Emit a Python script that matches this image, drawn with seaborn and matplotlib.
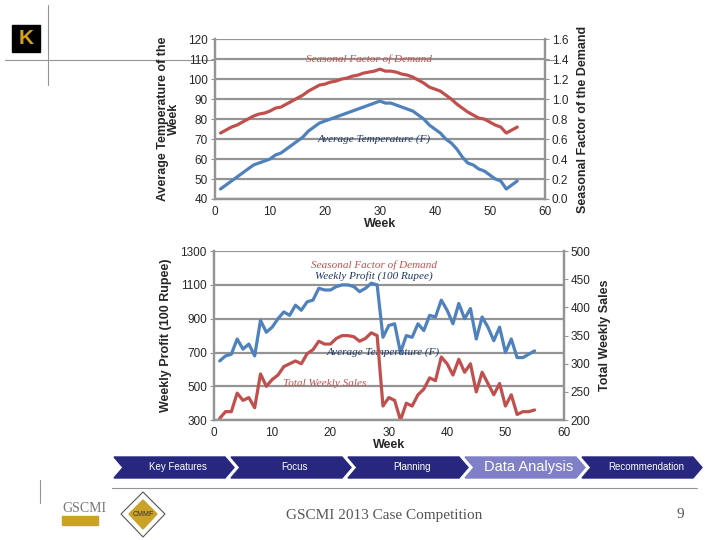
import numpy as np
import pandas as pd
import matplotlib
matplotlib.use("Agg")
import matplotlib.pyplot as plt
from matplotlib.patches import Polygon, Rectangle
import seaborn as sns

# weekly data
weeks = list(range(1, 56))
avg_temp = [45, 47, 49, 51, 53, 55, 57, 58, 59, 60, 62, 63, 65, 67, 69, 71, 74, 76, 78, 79,
            80, 81, 82, 83, 84, 85, 86, 87, 88, 89, 88, 88, 87, 86, 85, 84, 82, 80, 77, 75,
            73, 70, 68, 65, 61, 58, 57, 55, 54, 52, 50, 49, 45, 47, 49]
seasonal_factor = [0.66, 0.69, 0.72, 0.74, 0.77, 0.80, 0.83, 0.85, 0.86, 0.88, 0.91, 0.92, 0.95,
                   0.98, 1.01, 1.04, 1.08, 1.11, 1.14, 1.15, 1.17, 1.18, 1.20, 1.21, 1.23, 1.24,
                   1.26, 1.27, 1.28, 1.30, 1.28, 1.28, 1.27, 1.25, 1.24, 1.22, 1.19, 1.16, 1.12,
                   1.10, 1.08, 1.04, 1.00, 0.95, 0.91, 0.87, 0.84, 0.81, 0.80, 0.77, 0.74, 0.72,
                   0.66, 0.69, 0.72]
weekly_profit = [650, 680, 690, 780, 720, 750, 680, 890, 820, 850, 900, 940, 920, 980, 950, 1000,
                 1010, 1080, 1070, 1070, 1090, 1100, 1100, 1090, 1060, 1080, 1110, 1100, 790, 860,
                 870, 700, 800, 790, 870, 830, 920, 910, 1010, 950, 870, 990, 900, 960, 780, 910,
                 850, 770, 850, 700, 780, 670, 670, 690, 710]
weekly_sales = [203, 215, 215, 248, 235, 240, 222, 282, 260, 272, 280, 295, 300, 305, 300, 318,
                325, 340, 335, 335, 345, 350, 350, 348, 340, 345, 355, 350, 225, 240, 235, 200,
                230, 225, 245, 255, 275, 270, 312, 300, 280, 308, 285, 300, 250, 285, 265, 245,
                265, 225, 245, 210, 215, 215, 218]

nav_items = ["Key Features", "Focus", "Planning", "Data Analysis", "Recommendation"]

df = pd.DataFrame({"Week": weeks, "Temp": avg_temp, "Factor": seasonal_factor,
                   "Profit": weekly_profit, "Sales": weekly_sales})

sns.set_style("white")
plt.rcParams['font.family'] = ['Liberation Sans', 'DejaVu Sans']

BLUE = "#4F81BD"
RED = "#C0504D"
GRID = "#949494"
DARK = "#1F3864"
LABEL = dict(fontsize=9, fontweight='bold', family=['Liberation Sans Narrow', 'Liberation Sans'])


def style_axes(ax, twin):
    for a in (ax, twin):
        a.spines['top'].set_visible(False)
        for s in ('left', 'right', 'bottom'):
            a.spines[s].set_color(GRID)
            a.spines[s].set_linewidth(1.6)
        a.tick_params(labelsize=8.5, length=3, color=GRID, pad=2)
    ax.grid(axis='y', color=GRID, linewidth=1.6)
    ax.set_xlim(0, 60)
    ax.set_xticks(range(0, 61, 10))


fig = plt.figure(figsize=(7.2, 5.4), dpi=100)

# top chart
ax1 = fig.add_axes([0.2986, 0.6315, 0.458, 0.296])
ax1b = ax1.twinx()
sns.lineplot(data=df, x="Week", y="Factor", ax=ax1b, color=RED, linewidth=2.3)
sns.lineplot(data=df, x="Week", y="Temp", ax=ax1, color=BLUE, linewidth=2.3)
ax1.set_ylim(40, 120)
ax1.set_yticks(range(40, 121, 10))
ax1b.set_ylim(0, 1.6)
ax1b.set_yticks(np.arange(0, 1.61, 0.2))
ax1b.set_yticklabels([f"{v:.1f}" for v in np.arange(0, 1.61, 0.2)])
style_axes(ax1, ax1b)
ax1.set_xlabel("Week", labelpad=0, **LABEL)
ax1.set_ylabel("Average Temperature of the\nWeek", linespacing=0.9, labelpad=6, **LABEL)
ax1b.set_ylabel("Seasonal Factor of the Demand", labelpad=6, **LABEL)
serif = dict(family='Liberation Serif', style='italic', fontsize=8, ha='center', va='center')
ax1.text(28, 110, "Seasonal Factor of Demand", color=RED, **serif)
ax1.text(29, 70, "Average Temperature (F)", color=DARK, **serif)

# bottom chart
ax2 = fig.add_axes([0.297, 0.222, 0.486, 0.313])
ax2b = ax2.twinx()
sns.lineplot(data=df, x="Week", y="Sales", ax=ax2b, color=RED, linewidth=2.3)
sns.lineplot(data=df, x="Week", y="Profit", ax=ax2, color=BLUE, linewidth=2.3)
ax2.set_ylim(300, 1300)
ax2.set_yticks(range(300, 1301, 200))
ax2b.set_ylim(200, 500)
ax2b.set_yticks(range(200, 501, 50))
style_axes(ax2, ax2b)
ax2.set_xlabel("Week", labelpad=0, **LABEL)
ax2.set_ylabel("Weekly Profit (100 Rupee)", labelpad=6, **LABEL)
ax2b.set_ylabel("Total Weekly Sales", labelpad=6, **LABEL)
ax2.text(27.5, 1215, "Seasonal Factor of Demand", color=RED, **serif)
ax2.text(27.5, 1155, "Weekly Profit (100 Rupee)", color=DARK, **serif)
ax2.text(29, 700, "Average Temperature (F)", color=DARK, **serif)
ax2.text(19, 515, "Total Weekly Sales", color=RED, **serif)

# slide decorations (pixel coordinates, origin at top-left)
deco = fig.add_axes([0, 0, 1, 1], zorder=-1)
deco.set_xlim(0, 720)
deco.set_ylim(540, 0)
deco.axis('off')
deco.plot([5, 557], [60, 60], color=GRID, linewidth=0.8)
deco.plot([48, 48], [5, 85], color=GRID, linewidth=0.8)
deco.plot([112, 697], [488, 488], color=GRID, linewidth=0.8)
deco.plot([40, 40], [480, 503], color=GRID, linewidth=0.8)
# K logo
deco.add_patch(Rectangle((12, 25), 28, 27, color='black'))
deco.text(26, 38.5, "K", color='#D4A017', fontsize=15, fontweight='bold', ha='center', va='center')

# navigation chevrons
x0, w, notch, y_top, y_bot = 114, 120, 9, 457, 478
for i, label in enumerate(nav_items):
    left = x0 + i * (w - 3)
    ym = (y_top + y_bot) / 2
    pts = [(left, y_top), (left + w - notch, y_top), (left + w, ym),
           (left + w - notch, y_bot), (left, y_bot), (left + notch, ym)]
    active = label == "Data Analysis"
    deco.add_patch(Polygon(pts, closed=True, color='#8080C8' if active else '#27277F'))
    deco.text(left + w / 2 + 4, ym, label, color='white', ha='center', va='center',
              fontsize=10.5 if active else 7)

# footer
deco.text(62, 508, "GSCMI", color='#777777', family='Liberation Serif', fontsize=10, va='center')
deco.add_patch(Rectangle((62, 516), 36, 9, color='#C9A227'))
diamond = [(143, 492), (165, 514), (143, 537), (121, 514)]
deco.add_patch(Polygon(diamond, closed=True, fill=False, edgecolor='#555555', linewidth=0.8))
deco.add_patch(Polygon([(143, 500), (157, 514), (143, 529), (129, 514)], closed=True,
                       color='#C9A227'))
deco.text(143, 514, "CMMF", fontsize=5, ha='center', va='center', color='#333333')
deco.text(384, 516, "GSCMI 2013 Case Competition", family='Liberation Serif', fontsize=11,
          ha='center', va='center', color='#555555')
deco.text(680, 515, "9", family='Liberation Serif', fontsize=11, ha='center', va='center',
          color='#555555')

fig.savefig("out.png", dpi=100)
